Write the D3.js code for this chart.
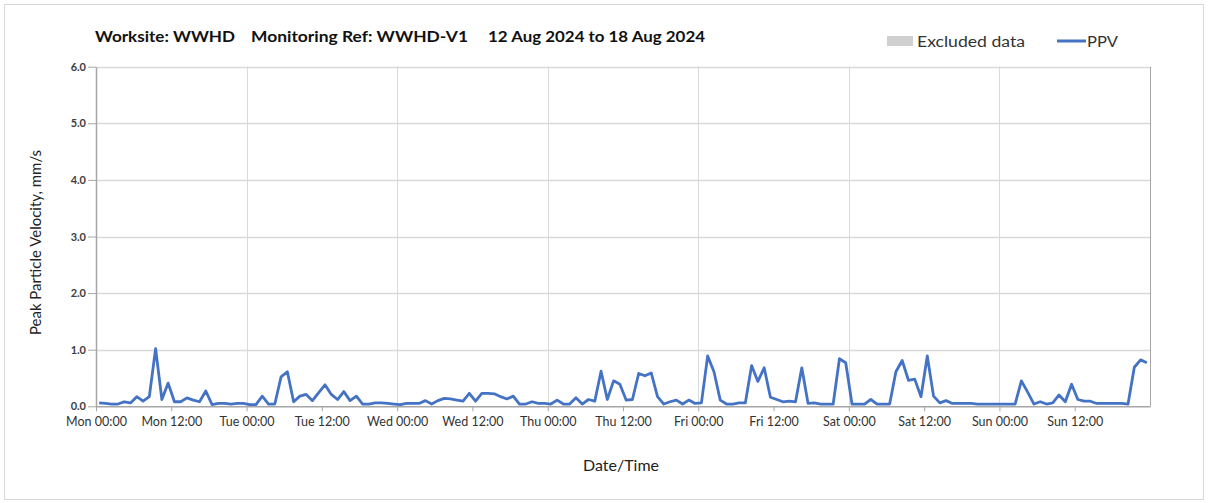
<!DOCTYPE html>
<html>
<head>
<meta charset="utf-8">
<script src="https://cdn.jsdelivr.net/npm/d3@7"></script>
<style>
  html, body { margin: 0; padding: 0; background: #fff; }
  svg { display: block; }
  text { font-family: "Lato", "Open Sans", sans-serif; }
</style>
</head>
<body>
<svg id="chart" width="1208" height="503"></svg>
<script>
// ---- Data (hourly PPV readings, mm/s, starting Mon 12 Aug 2024 00:30) ----
const titleParts = ["Worksite: WWHD", "Monitoring Ref: WWHD-V1", "12 Aug 2024 to 18 Aug 2024"];
const seriesName = "PPV";
const excludedName = "Excluded data";
const xTitle = "Date/Time";
const yTitle = "Peak Particle Velocity, mm/s";
const yTicks = [0, 1, 2, 3, 4, 5, 6];
const startTime = new Date(2024, 7, 12, 0, 30);
const ppv = [
  0.06,0.05,0.04,0.04,0.08,0.06,0.17,0.09,0.17,1.02,0.12,0.41,0.08,0.08,0.15,0.11,0.08,0.27,0.03,0.05,0.05,0.04,0.05,0.05,
  0.03,0.03,0.18,0.04,0.04,0.52,0.61,0.08,0.18,0.21,0.10,0.24,0.38,0.21,0.12,0.26,0.10,0.18,0.04,0.04,0.06,0.06,0.05,0.04,
  0.03,0.05,0.05,0.05,0.10,0.04,0.10,0.14,0.13,0.11,0.09,0.23,0.09,0.23,0.23,0.22,0.17,0.13,0.18,0.04,0.04,0.08,0.05,0.05,
  0.04,0.11,0.04,0.04,0.15,0.04,0.12,0.09,0.62,0.12,0.45,0.39,0.11,0.12,0.58,0.54,0.59,0.17,0.04,0.08,0.11,0.04,0.11,0.05,
  0.06,0.89,0.61,0.11,0.04,0.04,0.06,0.06,0.72,0.44,0.68,0.16,0.12,0.08,0.09,0.08,0.68,0.05,0.06,0.04,0.04,0.04,0.84,0.77,
  0.04,0.04,0.04,0.12,0.04,0.04,0.04,0.61,0.81,0.46,0.48,0.17,0.89,0.18,0.06,0.10,0.05,0.05,0.05,0.05,0.04,0.04,0.04,0.04,
  0.04,0.04,0.04,0.45,0.25,0.04,0.08,0.04,0.06,0.20,0.08,0.39,0.12,0.09,0.09,0.05,0.05,0.05,0.05,0.05,0.04,0.69,0.82,0.77
];

// ---- Layout ----
const svg = d3.select("#chart");
const W = 1208, H = 503;
const m = { left: 96, right: 1150, top: 66.7, bottom: 406.3 };

const x = d3.scaleTime()
  .domain([new Date(2024, 7, 12, 0, 0), new Date(2024, 7, 19, 0, 0)])
  .range([m.left, m.right]);
const y = d3.scaleLinear().domain([0, 6]).range([m.bottom, m.top]);

const data = ppv.map((v, i) => ({ t: d3.timeHour.offset(startTime, i), v }));

// outer border
svg.append("rect").attr("x", 4.5).attr("y", 4.5).attr("width", W - 9).attr("height", H - 8)
  .attr("fill", "#fff").attr("stroke", "#d9d9d9").attr("stroke-width", 1);

// gridlines
const dayTicks = d3.timeDay.range(x.domain()[0], x.domain()[1]).slice(1);
svg.append("g").selectAll("line.vg").data(dayTicks).join("line")
  .attr("x1", d => Math.round(x(d)) + 0.5).attr("x2", d => Math.round(x(d)) + 0.5)
  .attr("y1", m.top).attr("y2", m.bottom)
  .attr("stroke", "#d9d9d9").attr("stroke-width", 1);
svg.append("g").selectAll("line.hg").data(yTicks.filter(d => d > 0)).join("line")
  .attr("x1", m.left).attr("x2", m.right)
  .attr("y1", d => Math.round(y(d)) + 0.5).attr("y2", d => Math.round(y(d)) + 0.5)
  .attr("stroke", "#d9d9d9").attr("stroke-width", 1.5);

// plot frame (right side)
svg.append("line").attr("x1", m.right + 0.5).attr("x2", m.right + 0.5)
  .attr("y1", m.top).attr("y2", m.bottom).attr("stroke", "#a6a6a6");

// axes
const xTickVals = d3.timeHour.every(12).range(x.domain()[0], x.domain()[1]);
const fmt = d3.timeFormat("%a %H:%M");
const xAxis = svg.append("g").attr("transform", `translate(0,${m.bottom})`)
  .call(d3.axisBottom(x).tickValues(xTickVals).tickFormat(fmt).tickSize(5).tickSizeOuter(0));
xAxis.select(".domain").attr("stroke", "#a6a6a6").attr("stroke-width", 1.5);
xAxis.selectAll(".tick line").attr("stroke", "#a6a6a6");
xAxis.selectAll(".tick text").attr("fill", "#333").attr("font-size", 12.5)
  .attr("font-family", "Lato, sans-serif").attr("dy", "0.85em").attr("y", 9);

const yAxis = svg.append("g").attr("transform", `translate(${m.left},0)`)
  .call(d3.axisLeft(y).tickValues(yTicks).tickFormat(d3.format(".1f")).tickSize(8).tickSizeOuter(0));
yAxis.select(".domain").attr("stroke", "#a6a6a6").attr("stroke-width", 1.5);
yAxis.selectAll(".tick line").attr("stroke", "#a6a6a6");
yAxis.selectAll(".tick text").attr("fill", "#404040").attr("font-size", 11).attr("font-weight", 700)
  .attr("font-family", "Lato, sans-serif").attr("x", -10);

// line
const line = d3.line().x(d => x(d.t)).y(d => y(d.v));
svg.append("path").datum(data).attr("d", line)
  .attr("fill", "none").attr("stroke", "#4472c4").attr("stroke-width", 2.8)
  .attr("stroke-linejoin", "round");

// title
const titleX = [95, 251, 488];
const titleW = [140, 217, 217];
svg.append("g").selectAll("text").data(titleParts).join("text")
  .attr("x", (d, i) => titleX[i]).attr("y", 42)
  .attr("textLength", (d, i) => titleW[i]).attr("lengthAdjust", "spacingAndGlyphs")
  .attr("font-size", 15).attr("font-weight", 700).attr("fill", "#111").text(d => d);

// legend
svg.append("rect").attr("x", 887).attr("y", 36).attr("width", 26).attr("height", 10).attr("fill", "#d0d0d0");
svg.append("text").attr("x", 917).attr("y", 47).attr("font-size", 15.5).attr("fill", "#333")
  .attr("textLength", 108).attr("lengthAdjust", "spacingAndGlyphs").text(excludedName);
svg.append("line").attr("x1", 1057).attr("x2", 1086).attr("y1", 41).attr("y2", 41)
  .attr("stroke", "#4472c4").attr("stroke-width", 3);
svg.append("text").attr("x", 1087).attr("y", 47).attr("font-size", 15.5).attr("fill", "#333")
  .attr("textLength", 31).attr("lengthAdjust", "spacingAndGlyphs").text(seriesName);

// axis titles
svg.append("text").attr("x", 621).attr("y", 471).attr("text-anchor", "middle")
  .attr("font-size", 16).attr("fill", "#222").text(xTitle);
svg.append("text").attr("transform", `translate(41,${(135 + 350) / 2}) rotate(-90)`)
  .attr("text-anchor", "middle").attr("font-size", 15).attr("fill", "#222").text(yTitle);
</script>
</body>
</html>
